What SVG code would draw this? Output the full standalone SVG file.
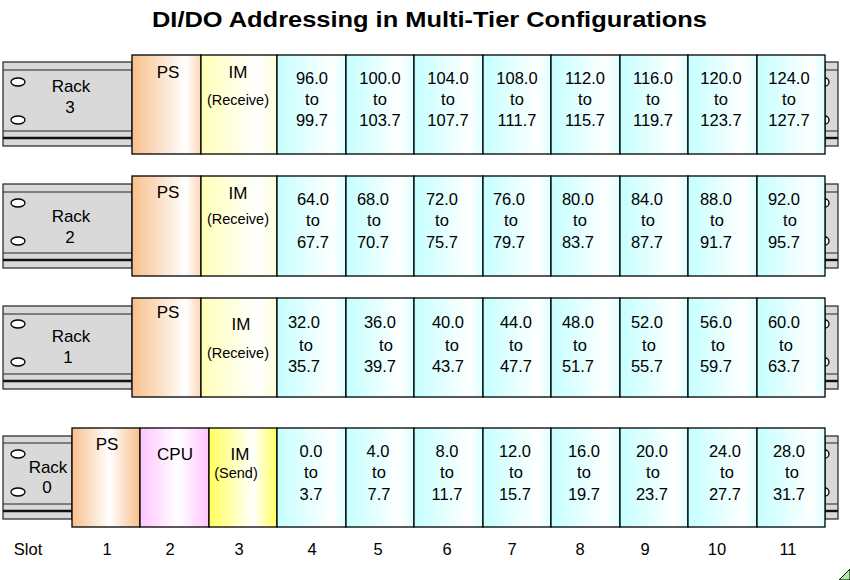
<svg xmlns="http://www.w3.org/2000/svg" width="850" height="580" viewBox="0 0 850 580">
<style>
text{font-family:"Liberation Sans",Arial,sans-serif;fill:#000;text-anchor:middle}
.t{font-size:22.5px;font-weight:bold}
.n{font-size:16.5px}
.l{font-size:17px}
.s{font-size:14.5px}
.rail{fill:#d9d9d9;stroke:#222;stroke-width:1.2}
.rl{stroke:#222;stroke-width:1.2;fill:none}
.rth{stroke:#111;stroke-width:2.4;fill:none}
.hole{fill:#fff;stroke:#000;stroke-width:1.3}
.m{stroke:#000;stroke-width:1.3}
.di{fill:url(#gDI)}
.ps{fill:url(#gPS)}
.ps0{fill:url(#gPS0)}
.im{fill:url(#gIM)}
.im0{fill:url(#gIM0)}
.cpu{fill:url(#gCPU)}
</style>
<defs>
<linearGradient id="gDI" x1="0" y1="0" x2="1" y2="0"><stop offset="0" stop-color="#c4ffff"/><stop offset="0.8" stop-color="#ffffff"/><stop offset="1" stop-color="#dcffff"/></linearGradient>
<linearGradient id="gPS" x1="0" y1="0" x2="1" y2="0"><stop offset="0" stop-color="#f8bf8c"/><stop offset="0.78" stop-color="#ffffff"/><stop offset="1" stop-color="#fbd6b4"/></linearGradient>
<linearGradient id="gPS0" x1="0" y1="0" x2="1" y2="0"><stop offset="0" stop-color="#f8bf8c"/><stop offset="0.55" stop-color="#ffffff"/><stop offset="1" stop-color="#f8bf8c"/></linearGradient>
<linearGradient id="gIM" x1="0" y1="0" x2="1" y2="0"><stop offset="0" stop-color="#ffffb8"/><stop offset="0.75" stop-color="#ffffff"/><stop offset="1" stop-color="#ffffd8"/></linearGradient>
<linearGradient id="gIM0" x1="0" y1="0" x2="1" y2="0"><stop offset="0" stop-color="#ffff5c"/><stop offset="0.65" stop-color="#ffffff"/><stop offset="1" stop-color="#ffff5c"/></linearGradient>
<linearGradient id="gCPU" x1="0" y1="0" x2="1" y2="0"><stop offset="0" stop-color="#ffc4ff"/><stop offset="0.55" stop-color="#ffffff"/><stop offset="1" stop-color="#ffc4ff"/></linearGradient>
</defs>
<rect x="0" y="0" width="850" height="580" fill="#fff"/>
<text class="t" x="429.5" y="27" textLength="555" lengthAdjust="spacingAndGlyphs">DI/DO Addressing in Multi-Tier Configurations</text>

<g id="rack3">
<g id="rack3-rail">
<rect class="rail" x="3" y="62" width="129" height="84"/>
<path class="rl" d="M3,70H132M3,131H132"/><path class="rth" d="M3,138H132"/>
<ellipse class="hole" cx="18" cy="82" rx="7" ry="4"/><ellipse class="hole" cx="18" cy="120" rx="7" ry="4"/>
<rect class="rail" x="825" y="62" width="13" height="84"/>
<path class="rl" d="M825,70H838M825,131H838"/><path class="rth" d="M825,138H838"/>
<path class="hole" d="M825,78a4,4 0 0 1 0,8z"/><path class="hole" d="M825,116a4,4 0 0 1 0,8z"/>
<text class="l" x="71" y="92">Rack</text><text class="l" x="70" y="113">3</text>
</g>
<g id="r3-ps"><rect class="m ps" x="132" y="55" width="69" height="99"/><text class="l" x="168" y="78">PS</text></g>
<g id="r3-im"><rect class="m im" x="201" y="55" width="76" height="99"/><text class="l" x="238" y="78">IM</text><text class="s" x="238" y="105">(Receive)</text></g>
<g id="r3-s4"><rect class="m di" x="277" y="55" width="69" height="99"/><text class="n" x="312" y="84">96.0</text><text class="n" x="312" y="105">to</text><text class="n" x="312" y="126">99.7</text></g>
<g id="r3-s5"><rect class="m di" x="346" y="55" width="68" height="99"/><text class="n" x="380" y="84">100.0</text><text class="n" x="380" y="105">to</text><text class="n" x="380" y="126">103.7</text></g>
<g id="r3-s6"><rect class="m di" x="414" y="55" width="69" height="99"/><text class="n" x="448" y="84">104.0</text><text class="n" x="448" y="105">to</text><text class="n" x="448" y="126">107.7</text></g>
<g id="r3-s7"><rect class="m di" x="483" y="55" width="68" height="99"/><text class="n" x="517" y="84">108.0</text><text class="n" x="517" y="105">to</text><text class="n" x="517" y="126">111.7</text></g>
<g id="r3-s8"><rect class="m di" x="551" y="55" width="69" height="99"/><text class="n" x="585" y="84">112.0</text><text class="n" x="585" y="105">to</text><text class="n" x="585" y="126">115.7</text></g>
<g id="r3-s9"><rect class="m di" x="620" y="55" width="68" height="99"/><text class="n" x="653" y="84">116.0</text><text class="n" x="653" y="105">to</text><text class="n" x="653" y="126">119.7</text></g>
<g id="r3-s10"><rect class="m di" x="688" y="55" width="69" height="99"/><text class="n" x="721" y="84">120.0</text><text class="n" x="721" y="105">to</text><text class="n" x="721" y="126">123.7</text></g>
<g id="r3-s11"><rect class="m di" x="757" y="55" width="68" height="99"/><text class="n" x="789" y="84">124.0</text><text class="n" x="789" y="105">to</text><text class="n" x="789" y="126">127.7</text></g>
</g>

<g id="rack2">
<g id="rack2-rail">
<rect class="rail" x="3" y="184" width="129" height="84"/>
<path class="rl" d="M3,192H132M3,253H132"/><path class="rth" d="M3,260H132"/>
<ellipse class="hole" cx="18" cy="203" rx="7" ry="4"/><ellipse class="hole" cx="18" cy="241" rx="7" ry="4"/>
<rect class="rail" x="825" y="184" width="13" height="84"/>
<path class="rl" d="M825,192H838M825,253H838"/><path class="rth" d="M825,260H838"/>
<path class="hole" d="M825,199a4,4 0 0 1 0,8z"/><path class="hole" d="M825,237a4,4 0 0 1 0,8z"/>
<text class="l" x="71" y="222">Rack</text><text class="l" x="70" y="243">2</text>
</g>
<g id="r2-ps"><rect class="m ps" x="132" y="176" width="69" height="100"/><text class="l" x="168" y="198">PS</text></g>
<g id="r2-im"><rect class="m im" x="201" y="176" width="76" height="100"/><text class="l" x="238" y="199">IM</text><text class="s" x="238" y="224">(Receive)</text></g>
<g id="r2-s4"><rect class="m di" x="277" y="176" width="69" height="100"/><text class="n" x="313" y="205">64.0</text><text class="n" x="313" y="226">to</text><text class="n" x="313" y="248">67.7</text></g>
<g id="r2-s5"><rect class="m di" x="346" y="176" width="68" height="100"/><text class="n" x="373" y="205">68.0</text><text class="n" x="374" y="226">to</text><text class="n" x="373" y="248">70.7</text></g>
<g id="r2-s6"><rect class="m di" x="414" y="176" width="69" height="100"/><text class="n" x="442" y="205">72.0</text><text class="n" x="442" y="226">to</text><text class="n" x="442" y="248">75.7</text></g>
<g id="r2-s7"><rect class="m di" x="483" y="176" width="68" height="100"/><text class="n" x="509" y="205">76.0</text><text class="n" x="511" y="226">to</text><text class="n" x="509" y="248">79.7</text></g>
<g id="r2-s8"><rect class="m di" x="551" y="176" width="69" height="100"/><text class="n" x="578" y="205">80.0</text><text class="n" x="580" y="226">to</text><text class="n" x="578" y="248">83.7</text></g>
<g id="r2-s9"><rect class="m di" x="620" y="176" width="68" height="100"/><text class="n" x="647" y="205">84.0</text><text class="n" x="648" y="226">to</text><text class="n" x="647" y="248">87.7</text></g>
<g id="r2-s10"><rect class="m di" x="688" y="176" width="69" height="100"/><text class="n" x="716" y="205">88.0</text><text class="n" x="717" y="226">to</text><text class="n" x="716" y="248">91.7</text></g>
<g id="r2-s11"><rect class="m di" x="757" y="176" width="68" height="100"/><text class="n" x="784" y="205">92.0</text><text class="n" x="790" y="226">to</text><text class="n" x="784" y="248">95.7</text></g>
</g>

<g id="rack1">
<g id="rack1-rail">
<rect class="rail" x="3" y="306" width="129" height="83"/>
<path class="rl" d="M3,314H132M3,374H132"/><path class="rth" d="M3,381H132"/>
<ellipse class="hole" cx="18" cy="324" rx="7" ry="4"/><ellipse class="hole" cx="18" cy="362" rx="7" ry="4"/>
<rect class="rail" x="825" y="306" width="13" height="83"/>
<path class="rl" d="M825,314H838M825,374H838"/><path class="rth" d="M825,381H838"/>
<path class="hole" d="M825,320a4,4 0 0 1 0,8z"/><path class="hole" d="M825,358a4,4 0 0 1 0,8z"/>
<text class="l" x="71" y="342">Rack</text><text class="l" x="68" y="363">1</text>
</g>
<g id="r1-ps"><rect class="m ps" x="132" y="298" width="69" height="99"/><text class="l" x="168" y="318">PS</text></g>
<g id="r1-im"><rect class="m im" x="201" y="298" width="76" height="99"/><text class="l" x="241" y="330">IM</text><text class="s" x="238" y="358">(Receive)</text></g>
<g id="r1-s4"><rect class="m di" x="277" y="298" width="69" height="99"/><text class="n" x="304" y="328">32.0</text><text class="n" x="306" y="351">to</text><text class="n" x="304" y="372">35.7</text></g>
<g id="r1-s5"><rect class="m di" x="346" y="298" width="68" height="99"/><text class="n" x="380" y="328">36.0</text><text class="n" x="386" y="351">to</text><text class="n" x="380" y="372">39.7</text></g>
<g id="r1-s6"><rect class="m di" x="414" y="298" width="69" height="99"/><text class="n" x="448" y="328">40.0</text><text class="n" x="452" y="351">to</text><text class="n" x="448" y="372">43.7</text></g>
<g id="r1-s7"><rect class="m di" x="483" y="298" width="68" height="99"/><text class="n" x="516" y="328">44.0</text><text class="n" x="516" y="351">to</text><text class="n" x="516" y="372">47.7</text></g>
<g id="r1-s8"><rect class="m di" x="551" y="298" width="69" height="99"/><text class="n" x="578" y="328">48.0</text><text class="n" x="580" y="351">to</text><text class="n" x="578" y="372">51.7</text></g>
<g id="r1-s9"><rect class="m di" x="620" y="298" width="68" height="99"/><text class="n" x="647" y="328">52.0</text><text class="n" x="649" y="351">to</text><text class="n" x="647" y="372">55.7</text></g>
<g id="r1-s10"><rect class="m di" x="688" y="298" width="69" height="99"/><text class="n" x="716" y="328">56.0</text><text class="n" x="718" y="351">to</text><text class="n" x="716" y="372">59.7</text></g>
<g id="r1-s11"><rect class="m di" x="757" y="298" width="68" height="99"/><text class="n" x="784" y="328">60.0</text><text class="n" x="786" y="351">to</text><text class="n" x="784" y="372">63.7</text></g>
</g>

<g id="rack0">
<g id="rack0-rail">
<rect class="rail" x="3" y="436" width="69" height="83"/>
<path class="rl" d="M3,443H72M3,504H72"/><path class="rth" d="M3,511H72"/>
<ellipse class="hole" cx="18" cy="454" rx="7" ry="4"/><ellipse class="hole" cx="18" cy="492" rx="7" ry="4"/>
<rect class="rail" x="825" y="436" width="13" height="83"/>
<path class="rl" d="M825,443H838M825,504H838"/><path class="rth" d="M825,511H838"/>
<path class="hole" d="M825,450a4,4 0 0 1 0,8z"/><path class="hole" d="M825,488a4,4 0 0 1 0,8z"/>
<text class="l" x="48" y="473">Rack</text><text class="l" x="47" y="493">0</text>
</g>
<g id="r0-ps"><rect class="m ps0" x="72" y="428" width="68" height="99"/><text class="l" x="107" y="450">PS</text></g>
<g id="r0-cpu"><rect class="m cpu" x="140" y="428" width="69" height="99"/><text class="l" x="175" y="460">CPU</text></g>
<g id="r0-im"><rect class="m im0" x="209" y="428" width="68" height="99"/><text class="l" x="240" y="460">IM</text><text class="s" x="236" y="478">(Send)</text></g>
<g id="r0-s4"><rect class="m di" x="277" y="428" width="69" height="99"/><text class="n" x="311" y="457">0.0</text><text class="n" x="311" y="478">to</text><text class="n" x="311" y="500">3.7</text></g>
<g id="r0-s5"><rect class="m di" x="346" y="428" width="68" height="99"/><text class="n" x="378" y="457">4.0</text><text class="n" x="379" y="478">to</text><text class="n" x="379" y="500">7.7</text></g>
<g id="r0-s6"><rect class="m di" x="414" y="428" width="69" height="99"/><text class="n" x="447" y="457">8.0</text><text class="n" x="447" y="478">to</text><text class="n" x="447" y="500">11.7</text></g>
<g id="r0-s7"><rect class="m di" x="483" y="428" width="68" height="99"/><text class="n" x="515" y="457">12.0</text><text class="n" x="516" y="478">to</text><text class="n" x="515" y="500">15.7</text></g>
<g id="r0-s8"><rect class="m di" x="551" y="428" width="69" height="99"/><text class="n" x="584" y="457">16.0</text><text class="n" x="584" y="478">to</text><text class="n" x="584" y="500">19.7</text></g>
<g id="r0-s9"><rect class="m di" x="620" y="428" width="68" height="99"/><text class="n" x="652" y="457">20.0</text><text class="n" x="653" y="478">to</text><text class="n" x="652" y="500">23.7</text></g>
<g id="r0-s10"><rect class="m di" x="688" y="428" width="69" height="99"/><text class="n" x="725" y="457">24.0</text><text class="n" x="727" y="478">to</text><text class="n" x="725" y="500">27.7</text></g>
<g id="r0-s11"><rect class="m di" x="757" y="428" width="68" height="99"/><text class="n" x="789" y="457">28.0</text><text class="n" x="792" y="478">to</text><text class="n" x="789" y="500">31.7</text></g>
</g>

<g id="slots">
<text class="n" x="28" y="555">Slot</text>
<text class="n" x="107" y="555">1</text>
<text class="n" x="170" y="555">2</text>
<text class="n" x="239" y="555">3</text>
<text class="n" x="312" y="555">4</text>
<text class="n" x="378" y="555">5</text>
<text class="n" x="447" y="555">6</text>
<text class="n" x="512" y="555">7</text>
<text class="n" x="580" y="555">8</text>
<text class="n" x="645" y="555">9</text>
<text class="n" x="717" y="555">10</text>
<text class="n" x="788" y="555">11</text>
</g>
<g id="connectors"/>
<polygon points="839,580 850,569 850,580" fill="#aaf0a0" stroke="#000" stroke-width="1"/>
</svg>
